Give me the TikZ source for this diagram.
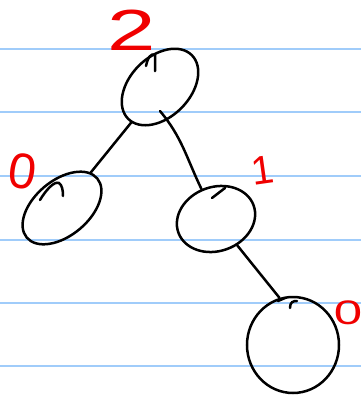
\documentclass[tikz,border=0pt]{standalone}
\usepackage{fontspec}
\setmainfont{Liberation Sans}
\usetikzlibrary{shapes.geometric}
\definecolor{ruled}{RGB}{160,204,250}
\definecolor{pen}{RGB}{240,0,0}
\tikzset{
  x=1pt, y=-1pt,
  ruleline/.style={draw=ruled, line width=2pt},
  bubble/.style={draw=black, line width=2.5pt, ellipse, inner sep=0pt},
  link/.style={draw=black, line width=2.5pt, line cap=round},
  tick/.style={draw=black, line width=2.5pt, line cap=round},
  penlabel/.style={text=pen, inner sep=0pt},
}
\begin{document}
\begin{tikzpicture}
\useasboundingbox (0,0) rectangle (361,397);
\fill[white] (0,0) rectangle (361,397);
% ruled lines
\foreach \yy in {49,112,176,240,303,366} \draw[ruleline] (0,\yy) -- (361,\yy);
% nodes
\node[bubble, minimum width=90pt, minimum height=60pt, rotate=45] (root) at (160,87) {};
\node[bubble, minimum width=92pt, minimum height=55pt, rotate=40] (left) at (62,208) {};
\node[bubble, minimum width=80pt, minimum height=64pt, rotate=20] (right) at (216,219) {};
\node[bubble, minimum width=92pt, minimum height=96pt] (bottom) at (293,345) {};
\path (root.center) ++(0,24) coordinate (rootfoot);
% pen-start ticks
\draw[tick] (146,66) .. controls (148,57) and (151,53) .. (155,55) -- (155,71);
\draw[tick] (40,200) .. controls (46,190) and (54,181) .. (59,183) .. controls (62,185) and (63,190) .. (63,196);
\draw[tick] (212,198) -- (225,188);
\draw[tick] (278,301) -- (285,298);
\draw[tick] (290,308) .. controls (290,302) and (293,301) .. (297,301);
% connectors
\draw[link] (root) -- (left);
\draw[link] (rootfoot) to[out=-50, in=106] (right);
\draw[link] (right) -- (bottom.106);
% labels
\node[penlabel, font=\fontsize{58}{58}\selectfont, xscale=1.5] (l2) at (132,30) {2};
\node[penlabel, font=\fontsize{50}{50}\selectfont, rotate=-8] (l0a) at (23,171) {0};
\node[penlabel, font=\fontsize{40}{40}\selectfont, rotate=8] (l1) at (263,170) {1};
\node[penlabel, font=\fontsize{34}{34}\selectfont, xscale=1.5] (l0b) at (348,313) {0};
\end{tikzpicture}
\end{document}
